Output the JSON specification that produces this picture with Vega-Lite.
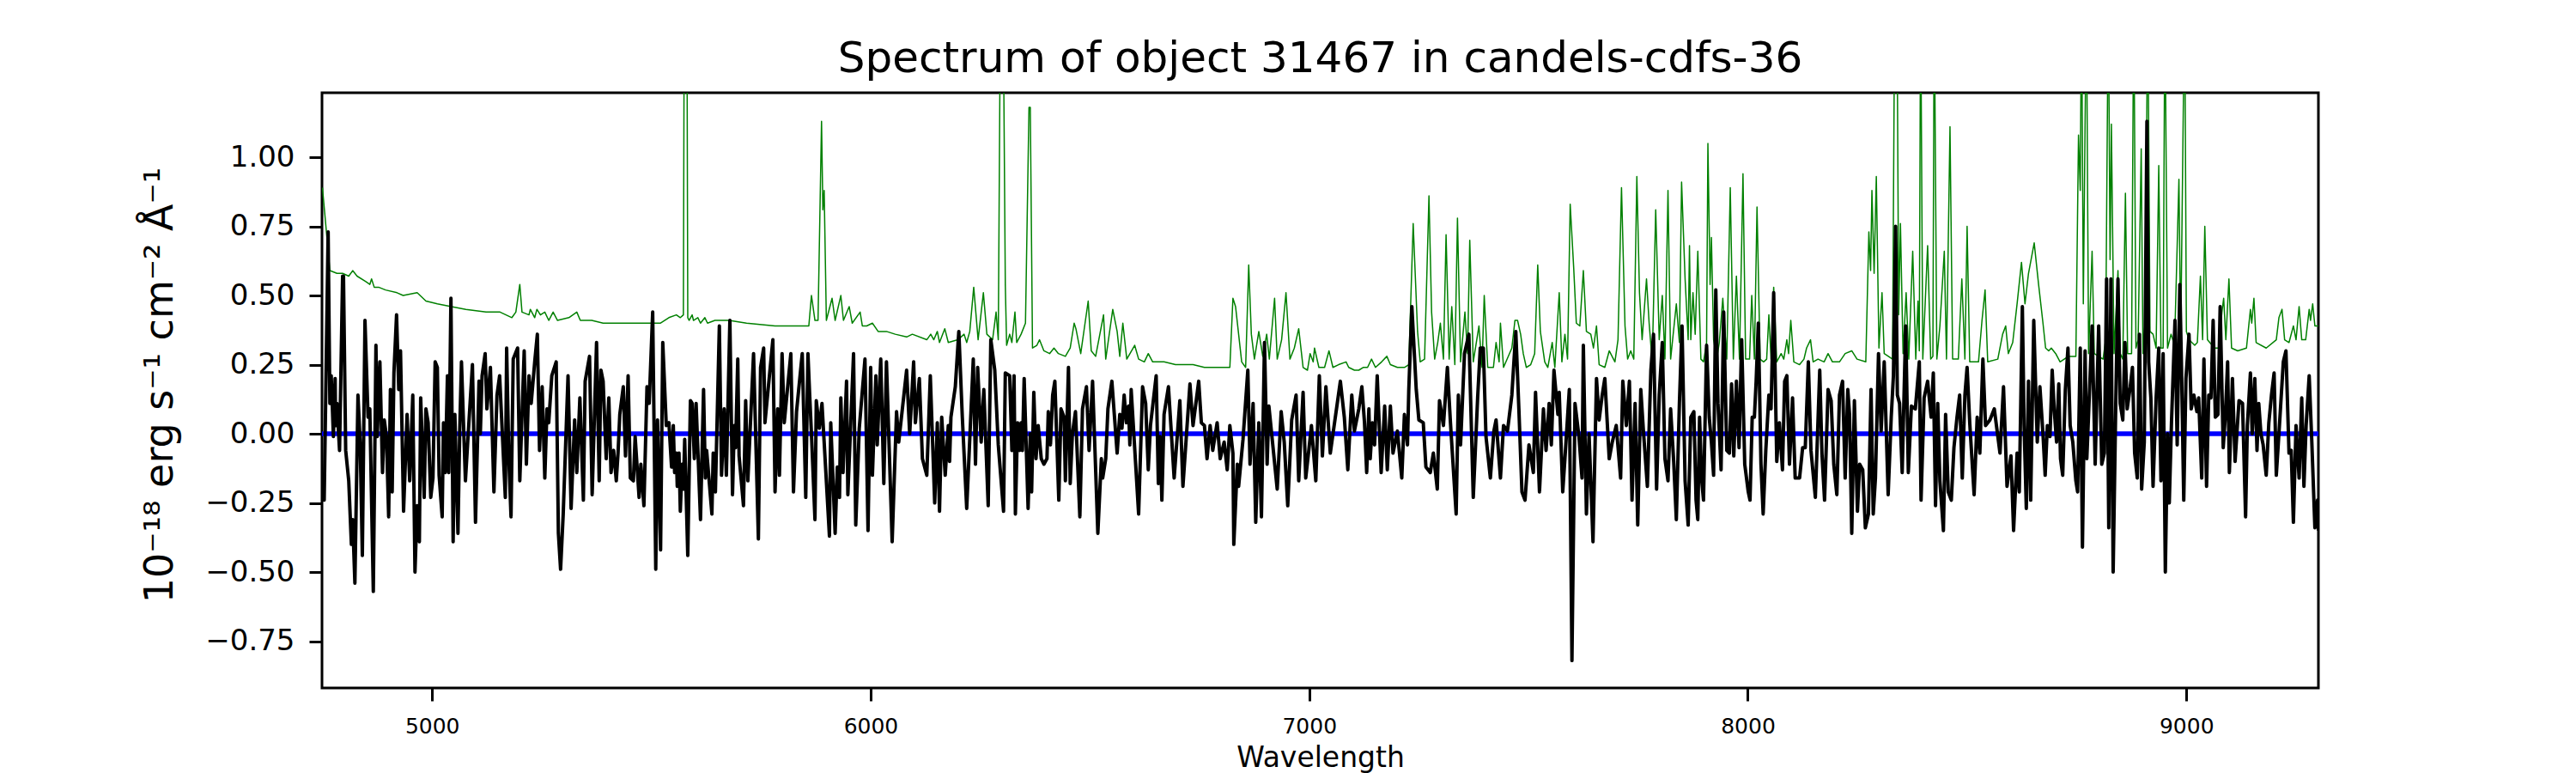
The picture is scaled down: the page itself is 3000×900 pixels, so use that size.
{
  "$schema": "https://vega.github.io/schema/vega-lite/v6.json",
  "width": 2325,
  "height": 693,
  "autosize": {"type": "none"},
  "padding": {"left": 375, "top": 108, "right": 300, "bottom": 99},
  "background": "white",
  "config": {
    "font": "DejaVu Sans",
    "view": {"stroke": "black", "strokeWidth": 3}
  },
  "title": {
    "text": "Spectrum of object 31467 in candels-cdfs-36",
    "font": "DejaVu Sans",
    "fontSize": 50,
    "fontWeight": "normal",
    "color": "black",
    "anchor": "middle",
    "offset": 14
  },
  "datasets": {
    "flux": [
      {"w":4749,"v":-0.14},{"w":4754,"v":-0.24},{"w":4763,"v":0.73},{"w":4767,"v":0.11},{"w":4770,"v":0.21},{"w":4775,"v":-0.01},{"w":4779,"v":0.20},{"w":4780,"v":0.03},{"w":4783,"v":0.11},{"w":4789,"v":-0.06},
      {"w":4796,"v":0.57},{"w":4798,"v":0.57},{"w":4803,"v":-0.06},{"w":4810,"v":-0.17},{"w":4816,"v":-0.40},{"w":4819,"v":-0.31},{"w":4824,"v":-0.54},{"w":4831,"v":0.14},{"w":4836,"v":-0.03},{"w":4841,"v":-0.44},
      {"w":4847,"v":0.41},{"w":4854,"v":0.06},{"w":4858,"v":0.09},{"w":4866,"v":-0.57},{"w":4872,"v":0.32},{"w":4875,"v":-0.01},{"w":4881,"v":0.26},{"w":4887,"v":-0.14},{"w":4891,"v":0.05},{"w":4896,"v":-0.01},
      {"w":4901,"v":-0.30},{"w":4905,"v":0.16},{"w":4909,"v":-0.21},{"w":4913,"v":0.22},{"w":4919,"v":0.43},{"w":4924,"v":0.16},{"w":4928,"v":0.30},{"w":4935,"v":-0.28},{"w":4943,"v":0.07},{"w":4949,"v":-0.17},
      {"w":4956,"v":0.14},{"w":4961,"v":-0.50},{"w":4966,"v":-0.26},{"w":4971,"v":-0.39},{"w":4974,"v":0.13},{"w":4982,"v":-0.23},{"w":4986,"v":0.09},{"w":4991,"v":0.04},{"w":4997,"v":-0.23},{"w":5002,"v":-0.16},
      {"w":5007,"v":0.26},{"w":5012,"v":0.24},{"w":5016,"v":-0.15},{"w":5023,"v":-0.30},{"w":5026,"v":0.04},{"w":5030,"v":-0.14},{"w":5035,"v":0.21},{"w":5038,"v":-0.14},{"w":5043,"v":0.49},{"w":5048,"v":-0.39},
      {"w":5052,"v":0.07},{"w":5059,"v":-0.36},{"w":5063,"v":0.01},{"w":5067,"v":0.26},{"w":5076,"v":-0.17},{"w":5082,"v":-0.01},{"w":5092,"v":0.25},{"w":5099,"v":-0.32},{"w":5107,"v":0.19},{"w":5110,"v":0.00},
      {"w":5114,"v":0.21},{"w":5121,"v":0.29},{"w":5125,"v":0.09},{"w":5133,"v":0.24},{"w":5141,"v":-0.21},{"w":5148,"v":0.14},{"w":5154,"v":0.21},{"w":5167,"v":-0.23},{"w":5170,"v":0.31},{"w":5175,"v":-0.09},
      {"w":5180,"v":-0.30},{"w":5185,"v":0.27},{"w":5195,"v":0.31},{"w":5200,"v":-0.17},{"w":5210,"v":0.30},{"w":5215,"v":-0.11},{"w":5221,"v":0.21},{"w":5226,"v":0.11},{"w":5234,"v":0.26},{"w":5240,"v":0.36},
      {"w":5245,"v":-0.06},{"w":5251,"v":0.17},{"w":5257,"v":-0.16},{"w":5262,"v":0.09},{"w":5266,"v":0.04},{"w":5273,"v":0.21},{"w":5283,"v":0.26},{"w":5288,"v":-0.36},{"w":5293,"v":-0.49},{"w":5299,"v":-0.29},
      {"w":5310,"v":0.21},{"w":5317,"v":-0.27},{"w":5325,"v":0.05},{"w":5330,"v":-0.14},{"w":5337,"v":0.13},{"w":5345,"v":-0.24},{"w":5349,"v":0.19},{"w":5359,"v":0.28},{"w":5365,"v":-0.22},{"w":5375,"v":0.33},
      {"w":5381,"v":-0.17},{"w":5385,"v":0.23},{"w":5390,"v":0.19},{"w":5397,"v":-0.09},{"w":5403,"v":0.13},{"w":5408,"v":-0.14},{"w":5414,"v":-0.06},{"w":5420,"v":-0.17},{"w":5424,"v":-0.07},{"w":5428,"v":0.07},
      {"w":5436,"v":0.17},{"w":5441,"v":-0.08},{"w":5447,"v":0.21},{"w":5452,"v":-0.16},{"w":5459,"v":-0.17},{"w":5463,"v":-0.01},{"w":5472,"v":-0.23},{"w":5476,"v":-0.11},{"w":5483,"v":-0.26},{"w":5490,"v":0.17},
      {"w":5495,"v":0.11},{"w":5503,"v":0.44},{"w":5510,"v":-0.49},{"w":5514,"v":0.05},{"w":5521,"v":-0.42},{"w":5526,"v":0.33},{"w":5534,"v":0.03},{"w":5540,"v":0.04},{"w":5546,"v":-0.12},{"w":5550,"v":0.03},
      {"w":5553,"v":-0.14},{"w":5557,"v":-0.07},{"w":5559,"v":-0.19},{"w":5563,"v":-0.07},{"w":5566,"v":-0.28},{"w":5570,"v":-0.11},{"w":5573,"v":-0.20},{"w":5576,"v":-0.02},{"w":5583,"v":-0.44},{"w":5589,"v":0.12},
      {"w":5593,"v":0.11},{"w":5598,"v":-0.09},{"w":5602,"v":0.11},{"w":5612,"v":-0.31},{"w":5619,"v":0.16},{"w":5623,"v":-0.16},{"w":5626,"v":-0.06},{"w":5638,"v":-0.29},{"w":5641,"v":-0.07},{"w":5646,"v":-0.21},
      {"w":5655,"v":0.39},{"w":5660,"v":-0.15},{"w":5666,"v":0.09},{"w":5671,"v":-0.15},{"w":5679,"v":0.41},{"w":5685,"v":-0.22},{"w":5689,"v":0.03},{"w":5692,"v":-0.05},{"w":5697,"v":0.27},{"w":5700,"v":-0.08},
      {"w":5710,"v":-0.26},{"w":5715,"v":0.12},{"w":5720,"v":-0.17},{"w":5733,"v":0.29},{"w":5744,"v":-0.38},{"w":5749,"v":0.24},{"w":5756,"v":0.31},{"w":5759,"v":0.04},{"w":5777,"v":0.34},{"w":5782,"v":-0.21},
      {"w":5788,"v":0.09},{"w":5792,"v":-0.15},{"w":5798,"v":0.29},{"w":5803,"v":0.04},{"w":5818,"v":0.29},{"w":5824,"v":-0.21},{"w":5831,"v":0.08},{"w":5844,"v":0.29},{"w":5852,"v":-0.23},{"w":5857,"v":0.29},
      {"w":5861,"v":0.14},{"w":5865,"v":0.00},{"w":5873,"v":-0.31},{"w":5876,"v":0.12},{"w":5883,"v":0.02},{"w":5889,"v":0.11},{"w":5906,"v":-0.37},{"w":5909,"v":0.04},{"w":5919,"v":-0.36},{"w":5924,"v":-0.12},
      {"w":5929,"v":-0.23},{"w":5932,"v":0.13},{"w":5937,"v":-0.14},{"w":5945,"v":0.19},{"w":5948,"v":-0.22},{"w":5961,"v":0.29},{"w":5966,"v":-0.33},{"w":5974,"v":0.02},{"w":5987,"v":0.27},{"w":5994,"v":-0.35},
      {"w":6000,"v":0.24},{"w":6004,"v":-0.15},{"w":6012,"v":0.21},{"w":6015,"v":-0.04},{"w":6023,"v":0.27},{"w":6030,"v":-0.18},{"w":6036,"v":0.26},{"w":6049,"v":-0.39},{"w":6059,"v":0.08},{"w":6064,"v":-0.03},
      {"w":6082,"v":0.23},{"w":6089,"v":0.00},{"w":6098,"v":0.26},{"w":6102,"v":0.04},{"w":6111,"v":0.20},{"w":6118,"v":-0.09},{"w":6128,"v":-0.15},{"w":6136,"v":0.21},{"w":6146,"v":-0.25},{"w":6152,"v":0.04},
      {"w":6157,"v":-0.28},{"w":6162,"v":0.06},{"w":6170,"v":-0.15},{"w":6177,"v":0.03},{"w":6180,"v":-0.10},{"w":6183,"v":0.06},{"w":6193,"v":0.17},{"w":6201,"v":0.37},{"w":6209,"v":0.06},{"w":6219,"v":-0.27},
      {"w":6234,"v":0.27},{"w":6239,"v":-0.11},{"w":6244,"v":0.24},{"w":6252,"v":-0.03},{"w":6258,"v":0.16},{"w":6268,"v":-0.26},{"w":6274,"v":0.34},{"w":6283,"v":0.23},{"w":6291,"v":-0.04},{"w":6303,"v":-0.28},
      {"w":6307,"v":0.22},{"w":6317,"v":0.21},{"w":6322,"v":-0.06},{"w":6327,"v":0.21},{"w":6330,"v":-0.29},{"w":6335,"v":0.04},{"w":6340,"v":-0.06},{"w":6343,"v":0.04},{"w":6346,"v":-0.06},{"w":6350,"v":0.20},
      {"w":6359,"v":-0.27},{"w":6364,"v":0.00},{"w":6367,"v":-0.21},{"w":6372,"v":0.15},{"w":6377,"v":-0.09},{"w":6382,"v":0.03},{"w":6389,"v":-0.09},{"w":6395,"v":-0.11},{"w":6402,"v":-0.09},{"w":6405,"v":0.08},
      {"w":6410,"v":-0.04},{"w":6415,"v":0.14},{"w":6420,"v":0.19},{"w":6429,"v":-0.24},{"w":6434,"v":0.09},{"w":6441,"v":0.06},{"w":6444,"v":-0.17},{"w":6451,"v":0.24},{"w":6455,"v":-0.18},{"w":6460,"v":0.00},
      {"w":6467,"v":0.08},{"w":6477,"v":-0.30},{"w":6483,"v":0.09},{"w":6492,"v":0.17},{"w":6498,"v":-0.06},{"w":6506,"v":0.19},{"w":6518,"v":-0.36},{"w":6526,"v":-0.09},{"w":6529,"v":-0.16},{"w":6536,"v":-0.09},
      {"w":6541,"v":0.09},{"w":6550,"v":0.19},{"w":6562,"v":-0.07},{"w":6568,"v":0.07},{"w":6573,"v":0.02},{"w":6578,"v":0.14},{"w":6583,"v":0.04},{"w":6588,"v":0.10},{"w":6591,"v":-0.04},{"w":6594,"v":0.16},
      {"w":6611,"v":-0.29},{"w":6620,"v":0.17},{"w":6627,"v":0.11},{"w":6633,"v":-0.13},{"w":6638,"v":0.03},{"w":6651,"v":0.21},{"w":6656,"v":-0.18},{"w":6660,"v":-0.01},{"w":6664,"v":-0.24},{"w":6669,"v":0.07},
      {"w":6679,"v":0.17},{"w":6692,"v":-0.16},{"w":6705,"v":0.12},{"w":6712,"v":-0.19},{"w":6728,"v":0.18},{"w":6735,"v":0.03},{"w":6748,"v":0.19},{"w":6754,"v":0.04},{"w":6761,"v":0.03},{"w":6767,"v":-0.09},
      {"w":6774,"v":0.03},{"w":6780,"v":-0.06},{"w":6790,"v":0.04},{"w":6797,"v":-0.09},{"w":6806,"v":-0.03},{"w":6813,"v":-0.13},{"w":6819,"v":0.03},{"w":6826,"v":-0.07},{"w":6828,"v":-0.40},{"w":6836,"v":-0.11},
      {"w":6839,"v":-0.19},{"w":6849,"v":-0.02},{"w":6860,"v":0.23},{"w":6865,"v":-0.11},{"w":6872,"v":0.11},{"w":6878,"v":-0.32},{"w":6885,"v":0.04},{"w":6891,"v":-0.30},{"w":6898,"v":0.33},{"w":6904,"v":-0.11},
      {"w":6908,"v":0.10},{"w":6927,"v":-0.20},{"w":6936,"v":0.08},{"w":6943,"v":-0.03},{"w":6951,"v":-0.26},{"w":6960,"v":0.05},{"w":6970,"v":0.14},{"w":6976,"v":-0.17},{"w":6986,"v":0.15},{"w":6992,"v":-0.16},
      {"w":6999,"v":-0.06},{"w":7005,"v":0.03},{"w":7015,"v":-0.17},{"w":7023,"v":0.21},{"w":7030,"v":-0.08},{"w":7038,"v":0.17},{"w":7048,"v":-0.07},{"w":7071,"v":0.19},{"w":7080,"v":0.06},{"w":7088,"v":-0.13},
      {"w":7097,"v":0.14},{"w":7103,"v":0.01},{"w":7113,"v":0.09},{"w":7120,"v":0.17},{"w":7126,"v":0.04},{"w":7131,"v":-0.14},{"w":7136,"v":0.09},{"w":7139,"v":-0.09},{"w":7144,"v":0.04},{"w":7149,"v":-0.04},
      {"w":7155,"v":0.21},{"w":7164,"v":-0.14},{"w":7172,"v":0.10},{"w":7178,"v":-0.13},{"w":7185,"v":0.10},{"w":7191,"v":-0.07},{"w":7201,"v":0.01},{"w":7211,"v":-0.16},{"w":7217,"v":0.07},{"w":7224,"v":-0.04},
      {"w":7227,"v":0.16},{"w":7234,"v":0.46},{"w":7244,"v":0.16},{"w":7250,"v":0.05},{"w":7260,"v":0.04},{"w":7266,"v":-0.12},{"w":7276,"v":-0.14},{"w":7283,"v":-0.07},{"w":7292,"v":-0.20},{"w":7297,"v":0.12},
      {"w":7306,"v":0.03},{"w":7315,"v":0.24},{"w":7322,"v":0.04},{"w":7335,"v":-0.29},{"w":7340,"v":0.14},{"w":7345,"v":-0.04},{"w":7354,"v":0.29},{"w":7364,"v":0.36},{"w":7374,"v":-0.23},{"w":7384,"v":0.13},
      {"w":7390,"v":0.31},{"w":7397,"v":0.31},{"w":7403,"v":-0.01},{"w":7413,"v":-0.16},{"w":7421,"v":0.01},{"w":7426,"v":0.05},{"w":7436,"v":-0.16},{"w":7443,"v":0.03},{"w":7452,"v":0.01},{"w":7462,"v":0.14},
      {"w":7471,"v":0.37},{"w":7478,"v":0.09},{"w":7485,"v":-0.21},{"w":7492,"v":-0.24},{"w":7501,"v":-0.04},{"w":7511,"v":-0.14},{"w":7516,"v":0.15},{"w":7525,"v":-0.21},{"w":7534,"v":0.09},{"w":7540,"v":-0.06},
      {"w":7547,"v":0.11},{"w":7552,"v":-0.04},{"w":7558,"v":0.23},{"w":7567,"v":0.07},{"w":7570,"v":0.15},{"w":7578,"v":-0.21},{"w":7583,"v":-0.09},{"w":7593,"v":0.16},{"w":7599,"v":-0.82},{"w":7606,"v":0.11},
      {"w":7615,"v":-0.01},{"w":7622,"v":-0.16},{"w":7625,"v":0.32},{"w":7632,"v":-0.29},{"w":7638,"v":0.00},{"w":7647,"v":-0.39},{"w":7655,"v":0.20},{"w":7661,"v":0.05},{"w":7668,"v":0.14},{"w":7674,"v":0.20},
      {"w":7684,"v":-0.09},{"w":7691,"v":-0.03},{"w":7700,"v":0.03},{"w":7710,"v":-0.16},{"w":7715,"v":0.19},{"w":7723,"v":0.03},{"w":7730,"v":0.19},{"w":7736,"v":-0.24},{"w":7743,"v":0.11},{"w":7749,"v":-0.33},
      {"w":7756,"v":0.16},{"w":7762,"v":0.01},{"w":7771,"v":-0.19},{"w":7779,"v":0.23},{"w":7785,"v":0.36},{"w":7792,"v":-0.20},{"w":7798,"v":0.14},{"w":7805,"v":0.33},{"w":7811,"v":-0.09},{"w":7818,"v":-0.17},
      {"w":7824,"v":0.09},{"w":7831,"v":-0.10},{"w":7837,"v":-0.31},{"w":7844,"v":0.11},{"w":7850,"v":0.39},{"w":7857,"v":-0.17},{"w":7864,"v":-0.33},{"w":7870,"v":0.06},{"w":7877,"v":0.08},{"w":7882,"v":-0.24},
      {"w":7886,"v":-0.31},{"w":7890,"v":0.06},{"w":7895,"v":-0.17},{"w":7899,"v":-0.24},{"w":7906,"v":0.32},{"w":7912,"v":0.06},{"w":7917,"v":-0.03},{"w":7922,"v":-0.15},{"w":7927,"v":0.52},{"w":7932,"v":0.11},
      {"w":7935,"v":0.01},{"w":7939,"v":-0.13},{"w":7945,"v":0.44},{"w":7952,"v":-0.06},{"w":7958,"v":-0.07},{"w":7963,"v":0.18},{"w":7968,"v":-0.08},{"w":7974,"v":0.19},{"w":7980,"v":-0.05},{"w":7986,"v":0.34},
      {"w":7993,"v":-0.11},{"w":8001,"v":-0.21},{"w":8005,"v":-0.24},{"w":8010,"v":0.06},{"w":8015,"v":0.06},{"w":8019,"v":0.19},{"w":8024,"v":0.40},{"w":8030,"v":-0.11},{"w":8035,"v":-0.29},{"w":8041,"v":-0.06},
      {"w":8048,"v":0.14},{"w":8053,"v":0.09},{"w":8059,"v":0.51},{"w":8066,"v":-0.10},{"w":8072,"v":0.04},{"w":8079,"v":-0.13},{"w":8084,"v":0.19},{"w":8089,"v":0.21},{"w":8095,"v":-0.11},{"w":8102,"v":0.13},
      {"w":8108,"v":-0.16},{"w":8118,"v":-0.16},{"w":8125,"v":-0.05},{"w":8131,"v":-0.05},{"w":8138,"v":0.26},{"w":8144,"v":-0.06},{"w":8154,"v":-0.23},{"w":8164,"v":0.23},{"w":8169,"v":-0.07},{"w":8175,"v":-0.24},
      {"w":8183,"v":0.16},{"w":8190,"v":0.12},{"w":8196,"v":-0.11},{"w":8203,"v":-0.22},{"w":8209,"v":0.14},{"w":8216,"v":0.19},{"w":8222,"v":-0.16},{"w":8228,"v":0.16},{"w":8232,"v":0.07},{"w":8237,"v":-0.36},
      {"w":8243,"v":0.12},{"w":8250,"v":-0.28},{"w":8255,"v":-0.11},{"w":8262,"v":-0.13},{"w":8268,"v":-0.34},{"w":8275,"v":-0.29},{"w":8281,"v":0.16},{"w":8286,"v":-0.29},{"w":8291,"v":-0.16},{"w":8298,"v":0.29},
      {"w":8304,"v":0.01},{"w":8311,"v":0.26},{"w":8320,"v":-0.22},{"w":8327,"v":0.06},{"w":8332,"v":0.21},{"w":8337,"v":0.75},{"w":8341,"v":0.14},{"w":8346,"v":0.11},{"w":8352,"v":-0.14},{"w":8360,"v":0.39},
      {"w":8366,"v":-0.14},{"w":8373,"v":0.10},{"w":8382,"v":0.09},{"w":8391,"v":0.26},{"w":8395,"v":-0.24},{"w":8402,"v":0.13},{"w":8410,"v":0.19},{"w":8418,"v":0.06},{"w":8423,"v":0.22},{"w":8428,"v":-0.26},
      {"w":8433,"v":0.11},{"w":8438,"v":-0.17},{"w":8446,"v":-0.35},{"w":8451,"v":0.07},{"w":8457,"v":-0.21},{"w":8464,"v":-0.24},{"w":8470,"v":-0.05},{"w":8477,"v":0.06},{"w":8483,"v":0.14},{"w":8489,"v":-0.16},
      {"w":8495,"v":0.14},{"w":8500,"v":0.24},{"w":8506,"v":0.04},{"w":8516,"v":-0.22},{"w":8523,"v":0.06},{"w":8529,"v":-0.07},{"w":8536,"v":0.27},{"w":8542,"v":0.03},{"w":8552,"v":0.05},{"w":8562,"v":0.09},
      {"w":8575,"v":-0.07},{"w":8583,"v":0.17},{"w":8591,"v":-0.19},{"w":8600,"v":-0.08},{"w":8606,"v":-0.35},{"w":8614,"v":-0.07},{"w":8619,"v":-0.21},{"w":8626,"v":0.46},{"w":8630,"v":0.03},{"w":8635,"v":-0.27},
      {"w":8640,"v":0.19},{"w":8645,"v":-0.24},{"w":8652,"v":0.41},{"w":8660,"v":-0.03},{"w":8666,"v":0.17},{"w":8673,"v":0.00},{"w":8678,"v":-0.15},{"w":8683,"v":0.03},{"w":8689,"v":-0.01},{"w":8694,"v":0.23},
      {"w":8699,"v":0.08},{"w":8704,"v":-0.03},{"w":8709,"v":0.18},{"w":8713,"v":-0.09},{"w":8718,"v":-0.15},{"w":8724,"v":0.16},{"w":8730,"v":0.31},{"w":8735,"v":0.03},{"w":8741,"v":-0.03},{"w":8748,"v":-0.17},
      {"w":8752,"v":-0.21},{"w":8758,"v":0.31},{"w":8763,"v":-0.41},{"w":8769,"v":0.30},{"w":8773,"v":-0.09},{"w":8778,"v":0.11},{"w":8785,"v":0.39},{"w":8792,"v":-0.11},{"w":8800,"v":0.39},{"w":8807,"v":-0.11},
      {"w":8813,"v":-0.07},{"w":8818,"v":0.56},{"w":8823,"v":-0.34},{"w":8828,"v":0.56},{"w":8833,"v":-0.50},{"w":8839,"v":0.11},{"w":8844,"v":0.56},{"w":8849,"v":0.11},{"w":8855,"v":0.05},{"w":8860,"v":0.33},
      {"w":8865,"v":0.09},{"w":8872,"v":0.17},{"w":8877,"v":0.24},{"w":8882,"v":-0.07},{"w":8888,"v":-0.16},{"w":8893,"v":0.36},{"w":8898,"v":-0.20},{"w":8904,"v":-0.03},{"w":8910,"v":1.13},{"w":8914,"v":0.26},
      {"w":8919,"v":0.13},{"w":8924,"v":-0.19},{"w":8931,"v":0.13},{"w":8937,"v":0.31},{"w":8942,"v":-0.17},{"w":8947,"v":0.29},{"w":8952,"v":-0.50},{"w":8957,"v":0.00},{"w":8961,"v":-0.25},{"w":8966,"v":0.04},
      {"w":8974,"v":0.41},{"w":8979,"v":-0.04},{"w":8985,"v":0.54},{"w":8989,"v":0.23},{"w":8994,"v":-0.24},{"w":8999,"v":0.20},{"w":9006,"v":0.36},{"w":9011,"v":0.09},{"w":9017,"v":0.14},{"w":9024,"v":0.08},
      {"w":9028,"v":0.13},{"w":9035,"v":-0.16},{"w":9040,"v":0.27},{"w":9046,"v":-0.19},{"w":9051,"v":0.14},{"w":9056,"v":0.13},{"w":9061,"v":0.41},{"w":9066,"v":0.06},{"w":9072,"v":0.07},{"w":9077,"v":0.46},
      {"w":9084,"v":-0.05},{"w":9089,"v":0.07},{"w":9094,"v":0.26},{"w":9098,"v":-0.14},{"w":9105,"v":0.20},{"w":9111,"v":-0.10},{"w":9120,"v":0.12},{"w":9128,"v":0.11},{"w":9135,"v":-0.30},{"w":9139,"v":0.03},
      {"w":9146,"v":0.22},{"w":9150,"v":0.00},{"w":9156,"v":0.20},{"w":9161,"v":-0.06},{"w":9165,"v":0.11},{"w":9170,"v":0.00},{"w":9175,"v":-0.04},{"w":9182,"v":-0.15},{"w":9188,"v":0.04},{"w":9194,"v":0.14},
      {"w":9200,"v":0.22},{"w":9205,"v":-0.15},{"w":9211,"v":0.00},{"w":9221,"v":0.26},{"w":9227,"v":0.30},{"w":9234,"v":-0.07},{"w":9239,"v":-0.06},{"w":9244,"v":-0.32},{"w":9250,"v":0.03},{"w":9257,"v":-0.16},
      {"w":9263,"v":0.13},{"w":9268,"v":-0.19},{"w":9273,"v":0.03},{"w":9280,"v":0.21},{"w":9286,"v":-0.03},{"w":9293,"v":-0.34},{"w":9299,"v":-0.24},{"w":9301,"v":-0.35}
    ],
    "sky": [
      {"w":4750,"v":0.89},{"w":4767,"v":0.59},{"w":4783,"v":0.58},{"w":4796,"v":0.58},{"w":4810,"v":0.57},{"w":4819,"v":0.59},{"w":4829,"v":0.57},{"w":4849,"v":0.55},{"w":4858,"v":0.54},{"w":4862,"v":0.56},
      {"w":4868,"v":0.53},{"w":4878,"v":0.53},{"w":4894,"v":0.52},{"w":4920,"v":0.51},{"w":4934,"v":0.50},{"w":4966,"v":0.51},{"w":4986,"v":0.48},{"w":5012,"v":0.47},{"w":5044,"v":0.46},{"w":5077,"v":0.45},
      {"w":5123,"v":0.44},{"w":5155,"v":0.44},{"w":5182,"v":0.42},{"w":5191,"v":0.44},{"w":5200,"v":0.54},{"w":5205,"v":0.44},{"w":5221,"v":0.43},{"w":5224,"v":0.45},{"w":5234,"v":0.42},{"w":5239,"v":0.45},
      {"w":5247,"v":0.43},{"w":5257,"v":0.44},{"w":5266,"v":0.41},{"w":5276,"v":0.44},{"w":5286,"v":0.41},{"w":5312,"v":0.42},{"w":5330,"v":0.44},{"w":5338,"v":0.41},{"w":5364,"v":0.41},{"w":5390,"v":0.40},
      {"w":5423,"v":0.40},{"w":5456,"v":0.40},{"w":5488,"v":0.40},{"w":5521,"v":0.40},{"w":5540,"v":0.42},{"w":5557,"v":0.43},{"w":5566,"v":0.42},{"w":5573,"v":0.43},{"w":5575,"v":1.6},{"w":5581,"v":1.6},
      {"w":5583,"v":0.42},{"w":5586,"v":0.41},{"w":5593,"v":0.43},{"w":5596,"v":0.41},{"w":5606,"v":0.42},{"w":5612,"v":0.40},{"w":5622,"v":0.42},{"w":5628,"v":0.40},{"w":5645,"v":0.41},{"w":5677,"v":0.41},
      {"w":5717,"v":0.40},{"w":5782,"v":0.39},{"w":5834,"v":0.39},{"w":5859,"v":0.39},{"w":5865,"v":0.50},{"w":5873,"v":0.41},{"w":5880,"v":0.41},{"w":5888,"v":1.13},{"w":5891,"v":0.81},{"w":5894,"v":0.88},
      {"w":5899,"v":0.41},{"w":5912,"v":0.49},{"w":5919,"v":0.41},{"w":5932,"v":0.50},{"w":5938,"v":0.41},{"w":5951,"v":0.46},{"w":5958,"v":0.40},{"w":5976,"v":0.44},{"w":5981,"v":0.39},{"w":5991,"v":0.39},
      {"w":6004,"v":0.40},{"w":6017,"v":0.37},{"w":6036,"v":0.37},{"w":6056,"v":0.36},{"w":6082,"v":0.35},{"w":6095,"v":0.36},{"w":6128,"v":0.34},{"w":6137,"v":0.36},{"w":6144,"v":0.34},{"w":6152,"v":0.37},
      {"w":6157,"v":0.33},{"w":6169,"v":0.38},{"w":6177,"v":0.33},{"w":6199,"v":0.34},{"w":6213,"v":0.36},{"w":6219,"v":0.33},{"w":6226,"v":0.37},{"w":6235,"v":0.53},{"w":6245,"v":0.34},{"w":6257,"v":0.51},
      {"w":6265,"v":0.36},{"w":6278,"v":0.34},{"w":6286,"v":0.44},{"w":6291,"v":0.34},{"w":6296,"v":1.6},{"w":6302,"v":1.6},{"w":6307,"v":0.54},{"w":6310,"v":0.32},{"w":6317,"v":0.36},{"w":6322,"v":0.33},
      {"w":6329,"v":0.44},{"w":6333,"v":0.33},{"w":6343,"v":0.36},{"w":6353,"v":0.40},{"w":6361,"v":1.18},{"w":6364,"v":1.18},{"w":6369,"v":0.31},{"w":6379,"v":0.32},{"w":6385,"v":0.34},{"w":6395,"v":0.30},
      {"w":6408,"v":0.29},{"w":6418,"v":0.31},{"w":6428,"v":0.29},{"w":6444,"v":0.28},{"w":6455,"v":0.31},{"w":6464,"v":0.40},{"w":6468,"v":0.38},{"w":6479,"v":0.29},{"w":6496,"v":0.48},{"w":6503,"v":0.30},
      {"w":6513,"v":0.28},{"w":6531,"v":0.43},{"w":6536,"v":0.27},{"w":6552,"v":0.45},{"w":6562,"v":0.37},{"w":6568,"v":0.28},{"w":6575,"v":0.40},{"w":6584,"v":0.27},{"w":6602,"v":0.32},{"w":6611,"v":0.27},
      {"w":6624,"v":0.26},{"w":6633,"v":0.29},{"w":6643,"v":0.26},{"w":6669,"v":0.26},{"w":6695,"v":0.25},{"w":6735,"v":0.25},{"w":6761,"v":0.24},{"w":6819,"v":0.24},{"w":6826,"v":0.49},{"w":6832,"v":0.46},
      {"w":6846,"v":0.26},{"w":6855,"v":0.24},{"w":6862,"v":0.61},{"w":6868,"v":0.36},{"w":6875,"v":0.27},{"w":6885,"v":0.37},{"w":6894,"v":0.28},{"w":6903,"v":0.36},{"w":6909,"v":0.27},{"w":6921,"v":0.49},
      {"w":6927,"v":0.27},{"w":6937,"v":0.34},{"w":6947,"v":0.51},{"w":6956,"v":0.27},{"w":6966,"v":0.31},{"w":6976,"v":0.38},{"w":6986,"v":0.24},{"w":6996,"v":0.23},{"w":7002,"v":0.29},{"w":7009,"v":0.26},
      {"w":7012,"v":0.31},{"w":7022,"v":0.24},{"w":7035,"v":0.24},{"w":7045,"v":0.30},{"w":7054,"v":0.24},{"w":7067,"v":0.25},{"w":7084,"v":0.26},{"w":7090,"v":0.24},{"w":7103,"v":0.23},{"w":7113,"v":0.23},
      {"w":7123,"v":0.24},{"w":7133,"v":0.24},{"w":7142,"v":0.27},{"w":7151,"v":0.24},{"w":7165,"v":0.26},{"w":7177,"v":0.28},{"w":7185,"v":0.25},{"w":7201,"v":0.24},{"w":7217,"v":0.24},{"w":7227,"v":0.25},
      {"w":7237,"v":0.76},{"w":7247,"v":0.37},{"w":7253,"v":0.26},{"w":7263,"v":0.27},{"w":7273,"v":0.86},{"w":7279,"v":0.44},{"w":7286,"v":0.27},{"w":7293,"v":0.33},{"w":7299,"v":0.40},{"w":7306,"v":0.27},
      {"w":7312,"v":0.72},{"w":7319,"v":0.27},{"w":7325,"v":0.46},{"w":7332,"v":0.25},{"w":7338,"v":0.78},{"w":7345,"v":0.26},{"w":7355,"v":0.44},{"w":7361,"v":0.29},{"w":7366,"v":0.70},{"w":7374,"v":0.26},
      {"w":7387,"v":0.39},{"w":7394,"v":0.24},{"w":7399,"v":0.50},{"w":7407,"v":0.24},{"w":7420,"v":0.24},{"w":7426,"v":0.33},{"w":7433,"v":0.26},{"w":7436,"v":0.40},{"w":7443,"v":0.24},{"w":7462,"v":0.31},
      {"w":7469,"v":0.41},{"w":7475,"v":0.41},{"w":7482,"v":0.36},{"w":7488,"v":0.29},{"w":7495,"v":0.24},{"w":7505,"v":0.25},{"w":7514,"v":0.29},{"w":7521,"v":0.61},{"w":7527,"v":0.37},{"w":7537,"v":0.26},
      {"w":7544,"v":0.24},{"w":7554,"v":0.33},{"w":7560,"v":0.24},{"w":7570,"v":0.51},{"w":7576,"v":0.26},{"w":7583,"v":0.36},{"w":7589,"v":0.27},{"w":7595,"v":0.83},{"w":7603,"v":0.60},{"w":7609,"v":0.40},
      {"w":7617,"v":0.39},{"w":7625,"v":0.59},{"w":7632,"v":0.37},{"w":7642,"v":0.36},{"w":7648,"v":0.31},{"w":7655,"v":0.39},{"w":7661,"v":0.25},{"w":7674,"v":0.24},{"w":7684,"v":0.30},{"w":7697,"v":0.26},
      {"w":7704,"v":0.34},{"w":7712,"v":0.89},{"w":7720,"v":0.39},{"w":7726,"v":0.27},{"w":7733,"v":0.30},{"w":7740,"v":0.27},{"w":7747,"v":0.93},{"w":7753,"v":0.51},{"w":7759,"v":0.34},{"w":7769,"v":0.56},
      {"w":7775,"v":0.40},{"w":7782,"v":0.26},{"w":7790,"v":0.81},{"w":7798,"v":0.34},{"w":7805,"v":0.50},{"w":7811,"v":0.27},{"w":7818,"v":0.88},{"w":7824,"v":0.27},{"w":7837,"v":0.47},{"w":7844,"v":0.33},
      {"w":7849,"v":0.91},{"w":7857,"v":0.56},{"w":7864,"v":0.34},{"w":7867,"v":0.68},{"w":7870,"v":0.34},{"w":7875,"v":0.51},{"w":7880,"v":0.36},{"w":7886,"v":0.66},{"w":7893,"v":0.27},{"w":7899,"v":0.26},
      {"w":7906,"v":0.33},{"w":7909,"v":1.05},{"w":7914,"v":0.54},{"w":7917,"v":0.71},{"w":7922,"v":0.34},{"w":7929,"v":0.27},{"w":7935,"v":0.33},{"w":7943,"v":0.49},{"w":7952,"v":0.27},{"w":7960,"v":0.89},
      {"w":7967,"v":0.27},{"w":7974,"v":0.57},{"w":7981,"v":0.27},{"w":7989,"v":0.94},{"w":7995,"v":0.27},{"w":8004,"v":0.27},{"w":8009,"v":0.50},{"w":8015,"v":0.27},{"w":8021,"v":0.82},{"w":8028,"v":0.27},
      {"w":8036,"v":0.26},{"w":8043,"v":0.27},{"w":8048,"v":0.43},{"w":8053,"v":0.27},{"w":8059,"v":0.53},{"w":8066,"v":0.26},{"w":8076,"v":0.29},{"w":8082,"v":0.27},{"w":8089,"v":0.34},{"w":8093,"v":0.29},
      {"w":8098,"v":0.41},{"w":8105,"v":0.26},{"w":8118,"v":0.25},{"w":8128,"v":0.27},{"w":8134,"v":0.31},{"w":8143,"v":0.34},{"w":8149,"v":0.26},{"w":8160,"v":0.27},{"w":8174,"v":0.26},{"w":8183,"v":0.29},
      {"w":8193,"v":0.26},{"w":8209,"v":0.26},{"w":8222,"v":0.29},{"w":8237,"v":0.30},{"w":8249,"v":0.27},{"w":8269,"v":0.26},{"w":8276,"v":0.73},{"w":8280,"v":0.59},{"w":8283,"v":0.88},{"w":8288,"v":0.58},
      {"w":8293,"v":0.93},{"w":8299,"v":0.31},{"w":8306,"v":0.51},{"w":8311,"v":0.29},{"w":8330,"v":0.27},{"w":8335,"v":1.6},{"w":8340,"v":1.6},{"w":8344,"v":0.43},{"w":8348,"v":0.76},{"w":8354,"v":0.29},
      {"w":8361,"v":0.51},{"w":8367,"v":0.27},{"w":8376,"v":0.66},{"w":8383,"v":0.27},{"w":8388,"v":0.48},{"w":8391,"v":0.30},{"w":8394,"v":1.6},{"w":8399,"v":0.27},{"w":8410,"v":0.68},{"w":8417,"v":0.27},
      {"w":8422,"v":0.28},{"w":8425,"v":1.6},{"w":8431,"v":0.27},{"w":8438,"v":0.39},{"w":8448,"v":0.66},{"w":8453,"v":0.27},{"w":8461,"v":1.11},{"w":8467,"v":0.27},{"w":8480,"v":0.27},{"w":8488,"v":0.56},
      {"w":8495,"v":0.27},{"w":8500,"v":0.75},{"w":8506,"v":0.26},{"w":8526,"v":0.26},{"w":8534,"v":0.41},{"w":8541,"v":0.52},{"w":8547,"v":0.26},{"w":8570,"v":0.27},{"w":8581,"v":0.36},{"w":8588,"v":0.39},
      {"w":8594,"v":0.29},{"w":8604,"v":0.33},{"w":8614,"v":0.47},{"w":8624,"v":0.62},{"w":8632,"v":0.47},{"w":8640,"v":0.58},{"w":8653,"v":0.69},{"w":8663,"v":0.54},{"w":8673,"v":0.40},{"w":8679,"v":0.31},
      {"w":8686,"v":0.30},{"w":8692,"v":0.31},{"w":8702,"v":0.29},{"w":8712,"v":0.26},{"w":8731,"v":0.28},{"w":8748,"v":0.28},{"w":8754,"v":1.08},{"w":8758,"v":0.88},{"w":8761,"v":1.6},{"w":8765,"v":0.47},
      {"w":8772,"v":1.6},{"w":8777,"v":0.29},{"w":8785,"v":0.66},{"w":8790,"v":0.29},{"w":8810,"v":0.27},{"w":8816,"v":0.34},{"w":8822,"v":1.6},{"w":8826,"v":0.63},{"w":8829,"v":1.12},{"w":8835,"v":0.29},
      {"w":8844,"v":0.59},{"w":8849,"v":0.29},{"w":8855,"v":0.27},{"w":8861,"v":0.87},{"w":8866,"v":0.29},{"w":8875,"v":0.29},{"w":8880,"v":1.6},{"w":8885,"v":0.31},{"w":8890,"v":0.34},{"w":8897,"v":1.03},
      {"w":8901,"v":0.29},{"w":8906,"v":0.41},{"w":8912,"v":1.6},{"w":8917,"v":0.37},{"w":8924,"v":0.36},{"w":8931,"v":0.31},{"w":8937,"v":0.97},{"w":8942,"v":0.31},{"w":8947,"v":0.31},{"w":8951,"v":1.6},
      {"w":8957,"v":0.31},{"w":8965,"v":0.36},{"w":8973,"v":0.32},{"w":8983,"v":0.92},{"w":8987,"v":0.34},{"w":8996,"v":1.6},{"w":9000,"v":0.37},{"w":9006,"v":0.34},{"w":9019,"v":0.32},{"w":9025,"v":0.33},
      {"w":9032,"v":0.57},{"w":9037,"v":0.34},{"w":9042,"v":0.75},{"w":9048,"v":0.34},{"w":9064,"v":0.31},{"w":9074,"v":0.31},{"w":9081,"v":0.44},{"w":9085,"v":0.49},{"w":9090,"v":0.34},{"w":9097,"v":0.56},
      {"w":9103,"v":0.31},{"w":9117,"v":0.30},{"w":9137,"v":0.31},{"w":9146,"v":0.45},{"w":9149,"v":0.40},{"w":9154,"v":0.49},{"w":9159,"v":0.33},{"w":9182,"v":0.31},{"w":9205,"v":0.34},{"w":9211,"v":0.42},
      {"w":9218,"v":0.45},{"w":9224,"v":0.34},{"w":9234,"v":0.33},{"w":9244,"v":0.39},{"w":9250,"v":0.34},{"w":9257,"v":0.46},{"w":9263,"v":0.34},{"w":9272,"v":0.34},{"w":9280,"v":0.45},{"w":9283,"v":0.41},
      {"w":9288,"v":0.47},{"w":9293,"v":0.39},{"w":9299,"v":0.39},{"w":9301,"v":0.39}
    ]
  },
  "encoding": {
    "x": {
      "field": "w",
      "type": "quantitative",
      "scale": {"domain": [4749, 9301], "nice": false, "zero": false},
      "axis": {
        "values": [5000, 6000, 7000, 8000, 9000],
        "format": "d",
        "grid": false,
        "domain": false,
        "labelFont": "DejaVu Sans",
        "labelFontSize": 25,
        "labelColor": "black",
        "labelPadding": 17,
        "labelFlush": false,
        "tickColor": "black",
        "tickSize": 15,
        "tickWidth": 3,
        "title": "Wavelength",
        "titleFont": "DejaVu Sans",
        "titleFontSize": 33,
        "titleFontWeight": "normal",
        "titleColor": "black",
        "titleX": 1162.5,
        "titleY": 91,
        "titleBaseline": "alphabetic",
        "titleAlign": "center"
      }
    },
    "y": {
      "field": "v",
      "type": "quantitative",
      "scale": {"domain": [-0.919, 1.233], "nice": false, "zero": false},
      "axis": {
        "values": [-0.75, -0.5, -0.25, 0, 0.25, 0.5, 0.75, 1.0],
        "format": ".2f",
        "grid": false,
        "domain": false,
        "labelFont": "DejaVu Sans",
        "labelFontSize": 34,
        "labelColor": "black",
        "labelPadding": 17,
        "labelFlush": false,
        "tickColor": "black",
        "tickSize": 15,
        "tickWidth": 3,
        "title": "10⁻¹⁸ erg s⁻¹ cm⁻² Å⁻¹",
        "titleFont": "DejaVu Sans",
        "titleFontSize": 46,
        "titleFontWeight": "normal",
        "titleColor": "black",
        "titleAngle": -90,
        "titleX": -175,
        "titleY": 340,
        "titleBaseline": "alphabetic",
        "titleAlign": "center"
      }
    }
  },
  "layer": [
    {
      "data": {"name": "sky"},
      "mark": {"type": "line", "color": "#008000", "strokeWidth": 1.5, "clip": true, "strokeJoin": "round"}
    },
    {
      "data": {"name": "flux"},
      "mark": {"type": "line", "color": "#0000ff", "strokeWidth": 5.5, "clip": true},
      "encoding": {"y": {"datum": 0}}
    },
    {
      "data": {"name": "flux"},
      "mark": {"type": "line", "color": "black", "strokeWidth": 4, "clip": true, "strokeJoin": "round"}
    }
  ]
}
